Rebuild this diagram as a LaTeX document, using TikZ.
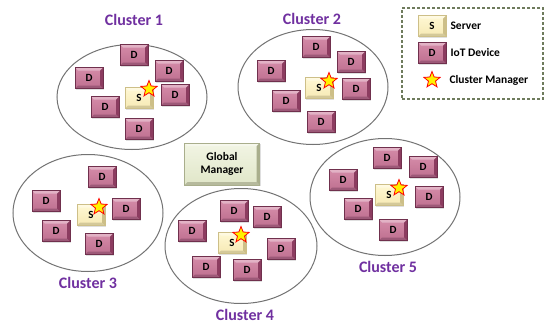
\documentclass[tikz,border=0pt]{standalone}
\usepackage{fontspec}
\setmainfont{Carlito}
\usetikzlibrary{shapes.geometric,shadows}
\definecolor{devtop}{HTML}{D58CA9}
\definecolor{devbot}{HTML}{BE6F8F}
\definecolor{devdark}{HTML}{8C3C60}
\definecolor{srvtop}{HTML}{FFF8D4}
\definecolor{srvbot}{HTML}{F6E9B4}
\definecolor{srvdark}{HTML}{CDBF88}
\definecolor{gmtop}{HTML}{F2F5E4}
\definecolor{gmbot}{HTML}{E0E6C8}
\definecolor{gmdark}{HTML}{A9AE8C}
\definecolor{clpurple}{HTML}{7030A0}
\definecolor{legendline}{HTML}{6E7B5C}
\tikzset{
  bevel/.style={path picture={
    \fill[#1] (path picture bounding box.north east) -- ++(-3pt,-3pt)
      -- ([xshift=-3pt,yshift=3pt]path picture bounding box.south east)
      -- (path picture bounding box.south east) -- cycle;
    \fill[#1!85!white] (path picture bounding box.south west) -- ++(3pt,3pt)
      -- ([xshift=-3pt,yshift=3pt]path picture bounding box.south east)
      -- (path picture bounding box.south east) -- cycle;
    \fill[white,opacity=0.35] (path picture bounding box.north west) -- ++(3pt,-3pt)
      -- ([xshift=-3pt,yshift=-3pt]path picture bounding box.north east)
      -- (path picture bounding box.north east) -- cycle;
  }},
  devbox/.style={minimum width=28pt, minimum height=21pt, inner sep=0pt,
    font=\fontsize{11}{13}\selectfont\bfseries, text=black,
    top color=devtop, bottom color=devbot, draw=devdark!80!black, line width=0.3pt,
    bevel=devdark, drop shadow={opacity=0.25, shadow xshift=1pt, shadow yshift=-1pt}},
  srvbox/.style={devbox, top color=srvtop, bottom color=srvbot, draw=srvdark, bevel=srvdark},
  gmbox/.style={minimum width=75pt, minimum height=42pt, inner sep=0pt, align=center,
    font=\fontsize{11.5}{13}\selectfont\bfseries, top color=gmtop, bottom color=gmbot,
    draw=gmdark, line width=0.3pt, bevel=gmdark,
    drop shadow={opacity=0.25, shadow xshift=1pt, shadow yshift=-1pt}},
  clell/.style={ellipse, draw=black!55, line width=1pt, inner sep=0pt},
  cmstar/.style={star, star points=5, star point ratio=2.3, fill=yellow, draw=red,
    line width=0.8pt, minimum size=17pt, inner sep=0pt},
  cllabel/.style={font=\fontsize{16}{18}\selectfont\bfseries, text=clpurple},
  legtext/.style={font=\fontsize{11.5}{13}\selectfont\bfseries, anchor=west},
}
\begin{document}
\begin{tikzpicture}[x=1pt,y=-1pt]
\useasboundingbox (0,0) rectangle (546,324);
\fill[white] (0,0) rectangle (546,324);

% Cluster 1
\node[clell, minimum width=150pt, minimum height=105pt] (e1) at (132,97) {};
\node[cllabel] (l1) at (134,20) {Cluster 1};
\node[devbox] (d11) at (134,55) {D};
\node[devbox] (d12) at (169,71) {D};
\node[devbox] (d13) at (89,78) {D};
\node[devbox] (d14) at (175,95) {D};
\node[devbox] (d15) at (105,107) {D};
\node[devbox] (d16) at (139,129) {D};
\node[srvbox] (s1) at (139,98) {S};
\node[cmstar] (m1) at (149,89) {};

% Cluster 2
\node[clell, minimum width=150pt, minimum height=115pt] (e2) at (313,87) {};
\node[cllabel] (l2) at (312,19) {Cluster 2};
\node[devbox] (d21) at (316,47) {D};
\node[devbox] (d22) at (351,62) {D};
\node[devbox] (d23) at (271,71) {D};
\node[devbox] (d24) at (356,89) {D};
\node[devbox] (d25) at (286,101) {D};
\node[devbox] (d26) at (321,122) {D};
\node[srvbox] (s2) at (319,88) {S};
\node[cmstar] (m2) at (329,81) {};

% Cluster 3
\node[clell, minimum width=150pt, minimum height=117pt] (e3) at (88,213) {};
\node[cllabel] (l3) at (88,283) {Cluster 3};
\node[devbox] (d31) at (102,177) {D};
\node[devbox] (d32) at (46,201) {D};
\node[devbox] (d33) at (126,209) {D};
\node[devbox] (d34) at (56,231) {D};
\node[devbox] (d35) at (99,244) {D};
\node[srvbox] (s3) at (91,215) {S};
\node[cmstar] (m3) at (99,207) {};

% Cluster 4
\node[clell, minimum width=152pt, minimum height=115pt] (e4) at (241,246) {};
\node[cllabel] (l4) at (245,315) {Cluster 4};
\node[devbox] (d41) at (234,211) {D};
\node[devbox] (d42) at (267,217) {D};
\node[devbox] (d43) at (192,231) {D};
\node[devbox] (d44) at (281,249) {D};
\node[devbox] (d45) at (206,267) {D};
\node[devbox] (d46) at (247,270) {D};
\node[srvbox] (s4) at (232,243) {S};
\node[cmstar] (m4) at (241,235) {};

% Cluster 5
\node[clell, minimum width=150pt, minimum height=117pt] (e5) at (385,197) {};
\node[cllabel] (l5) at (388,267) {Cluster 5};
\node[devbox] (d51) at (387,158) {D};
\node[devbox] (d52) at (423,167) {D};
\node[devbox] (d53) at (343,180) {D};
\node[devbox] (d54) at (429,197) {D};
\node[devbox] (d55) at (358,209) {D};
\node[devbox] (d56) at (393,230) {D};
\node[srvbox] (s5) at (389,195) {S};
\node[cmstar] (m5) at (399,188) {};

% Global manager
\node[gmbox] (gm) at (222,164) {Global\\Manager};

% Legend
\node[draw=legendline, dashed, dash pattern=on 3pt off 2pt, line width=1.2pt,
  minimum width=141pt, minimum height=91pt, inner sep=0pt] (leg) at (472.5,53.5) {};
\node[srvbox] (ls) at (432,26) {S};
\node[legtext] (lst) at (447,26) {Server};
\node[devbox] (ld) at (432,53) {D};
\node[legtext] (ldt) at (447,53) {IoT Device};
\node[cmstar] (lm) at (432,80) {};
\node[legtext] (lmt) at (446,80) {Cluster Manager};
\end{tikzpicture}
\end{document}
